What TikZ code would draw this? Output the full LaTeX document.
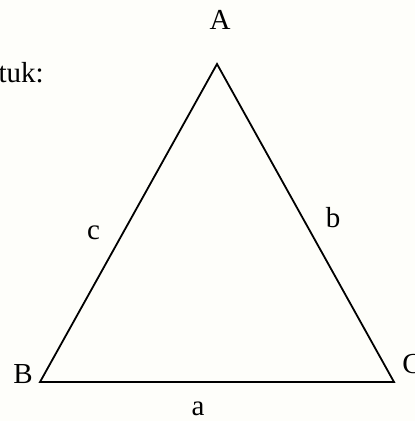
\documentclass[tikz,border=0pt]{standalone}
\usepackage{fontspec}
\setmainfont{Liberation Serif}
\begin{document}
\begin{tikzpicture}[x=1pt,y=-1pt,
  lbl/.style={inner sep=0pt,anchor=base,font=\fontsize{29}{34}\selectfont},
  side/.style={draw=black,line width=1.8pt,line join=miter}]
\fill[color={rgb,255:red,254;green,254;blue,250}] (0,0) rectangle (415,421);
\useasboundingbox (0,0) rectangle (415,421);
\coordinate (A) at (217,64);
\coordinate (B) at (40,382);
\coordinate (C) at (394,382);
\draw[side] (A) -- (B) -- (C) -- cycle;
\node[lbl] (lA) at (220,29) {A};
\node[lbl] (lB) at (23,383) {B};
\node[lbl] (lC) at (412,373) {C};
\node[lbl] (la) at (198,415) {a};
\node[lbl] (lb) at (333,227) {b};
\node[lbl] (lc) at (93.5,239) {c};
\node[inner sep=0pt,anchor=base east,font=\fontsize{29}{34}\selectfont] (t) at (44,82) {tuk:};
\end{tikzpicture}
\end{document}
